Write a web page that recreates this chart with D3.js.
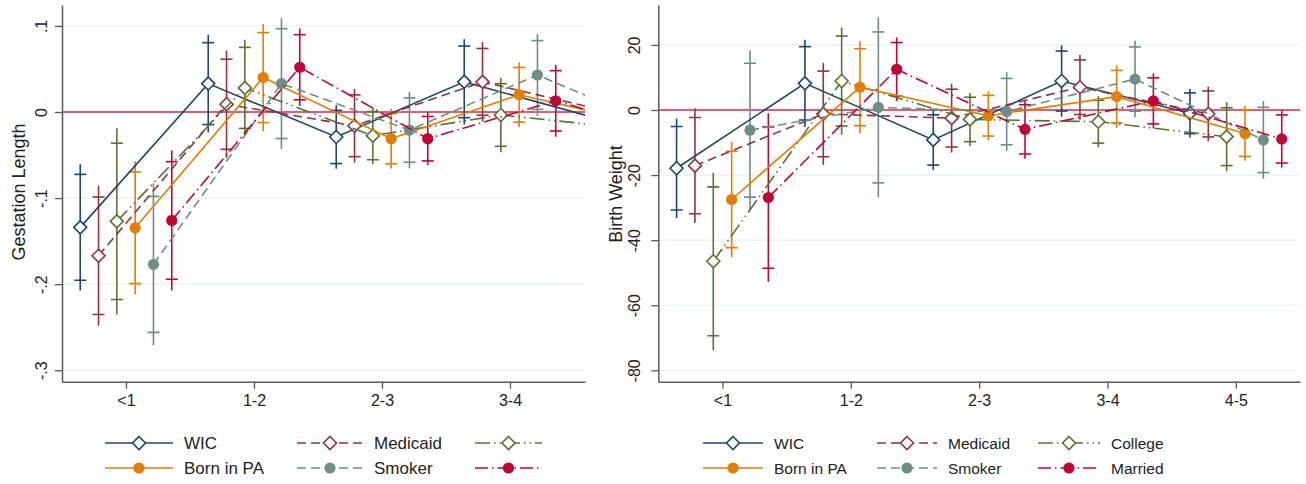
<!DOCTYPE html>
<html>
<head>
<meta charset="utf-8">
<script src="https://cdn.jsdelivr.net/npm/d3@7"></script>
<style>
  body { margin: 0; background: #fff; }
  svg { font-family: "Liberation Sans", Arial, sans-serif; }
</style>
</head>
<body>
<svg id="chart" width="1306" height="484"></svg>
<script>
// categories (years) and series
const categories = ["<1", "1-2", "2-3", "3-4", "4-5"]
const seriesNames = ["WIC", "Medicaid", "College", "Born in PA", "Smoker", "Married"]

// gestation length: point estimates and standard errors, one row per series
const gestEst = [
    [-0.134, 0.033, -0.029, 0.035, -0.006],
    [-0.167, 0.009, -0.016, 0.035, 0.000],
    [-0.127, 0.028, -0.0275, -0.0035, -0.019],
    [-0.1345, 0.040, -0.031, 0.020, -0.014],
    [-0.177, 0.033, -0.021, 0.043, -0.020],
    [-0.126, 0.052, -0.031, 0.013, -0.030]
]
const gestSE = [
    [0.0374, 0.0289, 0.0188, 0.0253, 0.020],
    [0.0415, 0.0318, 0.0218, 0.0236, 0.020],
    [0.0552, 0.0286, 0.0170, 0.0221, 0.020],
    [0.0394, 0.0318, 0.0177, 0.0193, 0.020],
    [0.0480, 0.0388, 0.0227, 0.0243, 0.020],
    [0.0415, 0.0230, 0.0157, 0.0213, 0.020]
]

// birth weight
const bwEst = [
    [-17.9, 8.2, -9.2, 8.9, -1.0],
    [-17.1, -1.2, -2.5, 7.0, -1.2],
    [-46.5, 8.9, -2.9, -3.6, -8.2],
    [-27.5, 7.0, -1.75, 4.1, -7.2],
    [-6.2, 0.8, -0.5, 9.5, -9.2],
    [-26.9, 12.5, -5.95, 2.8, -8.9]
]
const bwSE = [
    [7.8, 6.85, 4.7, 5.6, 3.8],
    [9.0, 8.0, 5.4, 5.1, 4.3],
    [13.9, 8.4, 4.15, 4.0, 5.4],
    [9.0, 7.2, 3.8, 4.9, 4.3],
    [12.5, 14.1, 6.2, 6.0, 6.1],
    [13.2, 5.0, 4.6, 4.3, 4.5]
]

// tick labels
const gestTicks = [0.1, 0, -0.1, -0.2, -0.3]
const gestTickLabels = [".1", "0", "-.1", "-.2", "-.3"]
const bwTicks = [20, 0, -20, -40, -60, -80]
const bwTickLabels = ["20", "0", "-20", "-40", "-60", "-80"]

// styles
const colors = ["#1a476f", "#90353b", "#55752f", "#e37e00", "#6e8e84", "#c10534"]
const dashes = [null, "9,5", "15,4,1.5,4,1.5,4", null, "9,5", "13,4,1.5,4"]
const hollow = [true, true, true, false, false, false]
const Z90 = 1.645
const Z95 = 1.96
const DODGE = 0.143

const svg = d3.select("#chart")

function drawPanel(cfg) {
    const x = d3.scaleLinear().domain(cfg.xDomain).range([cfg.left, cfg.right])
    const y = d3.scaleLinear().domain(cfg.yDomain).range([cfg.bottom, cfg.top])
    const g = svg.append("g")

    // grid
    g.selectAll("line.grid")
        .data(cfg.ticks)
        .enter()
        .append("line")
        .attr("x1", cfg.left).attr("x2", cfg.right)
        .attr("y1", d => y(d)).attr("y2", d => y(d))
        .attr("stroke", "#e6eff2").attr("stroke-width", 1.2)

    // zero line
    g.append("line")
        .attr("x1", cfg.left).attr("x2", cfg.right)
        .attr("y1", y(0)).attr("y2", y(0))
        .attr("stroke", "#e0284f").attr("stroke-width", 1.6)

    // axes
    const yAxis = d3.axisLeft(y)
        .tickValues(cfg.ticks)
        .tickFormat((d, i) => cfg.tickLabels[i])
        .tickSize(7).tickSizeOuter(0)
    const ya = g.append("g").attr("transform", `translate(${cfg.left},0)`).call(yAxis)
    ya.selectAll("text")
        .attr("x", null).attr("dy", "0.36em")
        .attr("text-anchor", "middle")
        .attr("transform", `translate(${-cfg.yLabelOff},0) rotate(-90)`)

    const xAxis = d3.axisBottom(x)
        .tickValues(cfg.xTicks)
        .tickFormat(i => categories[i])
        .tickSize(7).tickSizeOuter(0).tickPadding(6)
    const xa = g.append("g").attr("transform", `translate(0,${cfg.bottom})`).call(xAxis)

    ;[ya, xa].forEach(a => {
        a.select(".domain").attr("stroke", "#5a5a5a").attr("stroke-width", 1.5)
        a.selectAll(".tick line").attr("stroke", "#5a5a5a").attr("stroke-width", 1.3)
        a.selectAll("text").attr("fill", "#222").style("font-size", "16px")
    })

    g.append("text")
        .attr("transform", `translate(${cfg.titleX},${cfg.titleY}) rotate(-90)`)
        .attr("text-anchor", "middle").attr("dy", "0.36em")
        .style("font-size", "18px").attr("fill", "#222")
        .text(cfg.title)

    // data, clipped to the plot area
    const clipId = "clip" + cfg.id
    svg.append("clipPath").attr("id", clipId)
        .append("rect")
        .attr("x", cfg.left).attr("y", 0)
        .attr("width", cfg.right - cfg.left).attr("height", cfg.bottom)
    const dg = g.append("g").attr("clip-path", `url(#${clipId})`)

    const pos = (k, i) => x(i + (k - 2.5) * DODGE)

    // error bars
    seriesNames.forEach((name, k) => {
        const bars = dg.append("g").attr("stroke", colors[k]).attr("stroke-width", 1.6)
        cfg.est[k].forEach((v, i) => {
            const se = cfg.se[k][i]
            const px = pos(k, i)
            bars.append("line")
                .attr("x1", px).attr("x2", px)
                .attr("y1", y(v - Z95 * se)).attr("y2", y(v + Z95 * se))
            ;[v - Z90 * se, v + Z90 * se].forEach(c => {
                bars.append("line")
                    .attr("x1", px - 6).attr("x2", px + 6)
                    .attr("y1", y(c)).attr("y2", y(c))
            })
        })
    })

    // connected lines with markers
    seriesNames.forEach((name, k) => {
        const pts = cfg.est[k].map((v, i) => [pos(k, i), y(v)])
        dg.append("path")
            .attr("d", d3.line()(pts))
            .attr("fill", "none")
            .attr("stroke", colors[k]).attr("stroke-width", 1.6)
            .attr("stroke-dasharray", dashes[k])
        pts.forEach(p => drawMarker(dg, k, p[0], p[1]))
    })
}

function drawMarker(sel, k, cx, cy) {
    if (hollow[k]) {
        sel.append("path")
            .attr("d", `M${cx},${cy - 6.5}L${cx + 6.5},${cy}L${cx},${cy + 6.5}L${cx - 6.5},${cy}Z`)
            .attr("fill", "#fff").attr("stroke", colors[k]).attr("stroke-width", 1.6)
    } else {
        sel.append("circle").attr("cx", cx).attr("cy", cy).attr("r", 5.6)
            .attr("fill", colors[k])
    }
}

function drawLegend(items, fontSize) {
    const lg = svg.append("g")
    items.forEach(it => {
        const k = it.k
        lg.append("line")
            .attr("x1", it.x1).attr("x2", it.x2)
            .attr("y1", it.y).attr("y2", it.y)
            .attr("stroke", colors[k]).attr("stroke-width", 1.6)
            .attr("stroke-dasharray", dashes[k])
        drawMarker(lg, k, (it.x1 + it.x2) / 2, it.y)
        if (it.label) {
            lg.append("text")
                .attr("x", it.x2 + 11).attr("y", it.y).attr("dy", "0.36em")
                .style("font-size", fontSize + "px").attr("fill", "#222")
                .text(it.label)
        }
    })
}

drawPanel({
    id: "L", left: 62, right: 585, top: 5, bottom: 381.7,
    xDomain: [-0.5, 3.586], xTicks: [0, 1, 2, 3],
    yDomain: [-0.3133, 0.1243], ticks: gestTicks, tickLabels: gestTickLabels,
    yLabelOff: 21, title: "Gestation Length", titleX: 19, titleY: 192,
    est: gestEst, se: gestSE
})

drawPanel({
    id: "R", left: 658.3, right: 1300, top: 5, bottom: 381.7,
    xDomain: [-0.5, 4.5], xTicks: [0, 1, 2, 3, 4],
    yDomain: [-83.5, 32.27], ticks: bwTicks, tickLabels: bwTickLabels,
    yLabelOff: 24, title: "Birth Weight", titleX: 616, titleY: 194,
    est: bwEst, se: bwSE
})

// legends (left panel is cut off at its third column)
const rowY = [443, 468]
const leftCols = [[105, 173], [297, 363], [475, 542]]
const rightCols = [[703, 763], [877, 937], [1038, 1100]]
drawLegend(seriesNames.map((name, k) => ({
    k: k, x1: leftCols[k % 3][0], x2: leftCols[k % 3][1], y: rowY[Math.floor(k / 3)],
    label: k % 3 === 2 ? null : name
})), 17)
drawLegend(seriesNames.map((name, k) => ({
    k: k, x1: rightCols[k % 3][0], x2: rightCols[k % 3][1], y: rowY[Math.floor(k / 3)],
    label: name
})), 15.5)
</script>
</body>
</html>
